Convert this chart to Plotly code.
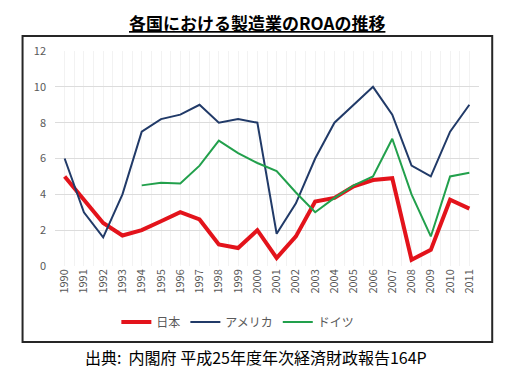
import plotly.graph_objects as go

years = list(range(1990, 2012))
japan = [5.0, 3.7, 2.4, 1.7, 2.0, 2.5, 3.0, 2.6, 1.2, 1.0, 2.0, 0.45, 1.65, 3.6, 3.8, 4.45, 4.8, 4.9, 0.35, 0.9, 3.7, 3.2]
usa = [6.0, 3.0, 1.6, 4.0, 7.5, 8.2, 8.45, 9.0, 8.0, 8.2, 8.0, 1.8, 3.5, 6.0, 8.0, 9.0, 10.0, 8.45, 5.6, 5.0, 7.5, 9.0]
germany = [None, None, None, None, 4.5, 4.65, 4.6, 5.6, 7.0, 6.3, 5.75, 5.3, 4.1, 3.0, 3.8, 4.5, 5.0, 7.1, 4.0, 1.65, 5.0, 5.2]
series_names = ["日本", "アメリカ", "ドイツ"]
title_text = "各国における製造業のROAの推移"
source_text = "出典:  内閣府 平成25年度年次経済財政報告164P"

FONT = "Noto Sans CJK JP"

fig = go.Figure()
fig.add_trace(go.Scatter(x=years, y=japan, name=series_names[0], mode="lines",
                         line=dict(color="#e3131b", width=4)))
fig.add_trace(go.Scatter(x=years, y=usa, name=series_names[1], mode="lines",
                         line=dict(color="#213a68", width=2)))
fig.add_trace(go.Scatter(x=years, y=germany, name=series_names[2], mode="lines",
                         line=dict(color="#22a04c", width=2)))

OFF = 8  # page body margin
W, H = 514 - OFF, 374 - OFF
L, R, T, B = 55.4 - OFF, 478.8 - OFF, 51 - OFF, 266 - OFF

def px(x):
    return (x - OFF - L) / (R - L)

def py(y):
    return (B - (y - OFF)) / (B - T)

fig.update_layout(
    width=W, height=H,
    margin=dict(l=L, r=W - R, t=T, b=H - B),
    paper_bgcolor="white", plot_bgcolor="white",
    font=dict(family=FONT, color="#595959"),
    showlegend=True,
    legend=dict(orientation="h", x=px(238), xanchor="center", y=py(322), yanchor="middle",
                font=dict(size=12, color="#595959"), bgcolor="rgba(0,0,0,0)",
                itemwidth=30, tracegroupgap=0),
    xaxis=dict(range=[1989.5, 2011.5], tickmode="array", tickvals=years,
               ticktext=[str(y) for y in years], tickangle=-90,
               showgrid=True, gridcolor="#f2f2f2", gridwidth=1,
               minor=dict(dtick=1, tick0=1989.5, showgrid=True, gridcolor="#f2f2f2"),
               zeroline=False, showline=False, ticks="",
               tickfont=dict(size=11, color="#595959")),
    yaxis=dict(range=[0, 12], dtick=2, showgrid=True, gridcolor="#dcdcdc", gridwidth=1,
               zeroline=False, showline=False, ticks="",
               tickfont=dict(size=11, color="#595959"), ticklabelstandoff=8),
    shapes=[dict(type="rect", xref="paper", yref="paper",
                 x0=px(23), x1=px(492), y0=py(342), y1=py(36),
                 line=dict(color="#262626", width=2), fillcolor="rgba(0,0,0,0)", layer="below")],
    annotations=[
        dict(text="<b><u>" + title_text + "</u></b>", xref="paper", yref="paper",
             x=px(257), y=py(8.5), xanchor="center", yanchor="top", showarrow=False,
             borderpad=0,
             font=dict(size=17, color="#000000", family=FONT)),
        dict(text=source_text, xref="paper", yref="paper",
             x=px(256), y=py(357), xanchor="center", yanchor="middle", showarrow=False,
             font=dict(size=16, color="#000000", family=FONT)),
    ],
)

fig.write_html("out.html")
